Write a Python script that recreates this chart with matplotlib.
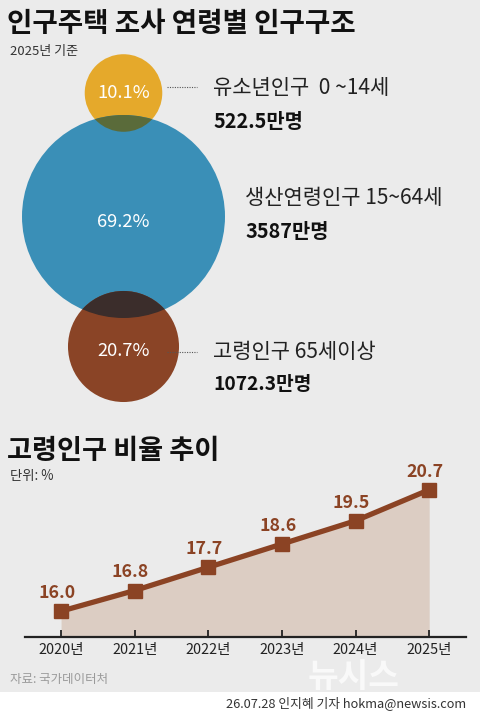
import matplotlib
matplotlib.use("Agg")
import matplotlib.pyplot as plt
from matplotlib.patches import Circle, Rectangle
import numpy as np

plt.rcParams['font.family'] = ['Noto Sans CJK KR', 'DejaVu Sans']

# ---------------- data ----------------
title = '인구주택 조사 연령별 인구구조'
subtitle = '2025년 기준'
groups = ['유소년인구', '생산연령인구', '고령인구']
age_ranges = ['0 ~14세', '15~64세', '65세이상']
group_sep = ['  ', ' ', ' ']
shares = [10.1, 69.2, 20.7]            # %
counts = [522.5, 3587, 1072.3]          # 만명

trend_title = '고령인구 비율 추이'
unit_label = '단위: %'
years = [2020, 2021, 2022, 2023, 2024, 2025]
elder_ratio = [16.0, 16.8, 17.7, 18.6, 19.5, 20.7]
source = '자료: 국가데이터처'
credit = '26.07.28 인지혜 기자 hokma@newsis.com'

# ---------------- style ----------------
BG = '#ebebeb'
C_YEL = '#e5a92b'
C_BLU = '#3a8fb7'
C_BRN = '#8a4426'
C_OLV = '#5a6b3a'
C_DRK = '#3b2d2b'
C_FILL = '#dccdc3'
C_LINE = '#8b4324'

W, H = 480, 714
fig = plt.figure(figsize=(W / 100, H / 100), dpi=100)
fig.patch.set_facecolor(BG)

bg = fig.add_axes([0, 0, 1, 1])
bg.set_xlim(0, W)
bg.set_ylim(H, 0)
bg.axis('off')
bg.set_zorder(0)

# white footer band
bg.add_patch(Rectangle((0, 692), W, H - 692, facecolor='white', edgecolor='none', zorder=1))

# titles
bg.text(7, 24, title, fontsize=19.9, fontweight='bold', color='#111111', va='center', ha='left')
bg.text(10, 52, subtitle, fontsize=9.4, color='#333333', va='center', ha='left')

# ---------------- bubbles ----------------
k = 101.5 / np.sqrt(69.2)
radii = [k * np.sqrt(s) for s in shares]
cx = 123.5
cys = [93, 216.5, 346.5]
colors = [C_YEL, C_BLU, C_BRN]

circles = []
for r, cy, c in zip(radii, cys, colors):
    p = Circle((cx, cy), r, facecolor=c, edgecolor='none', zorder=2)
    bg.add_patch(p)
    circles.append(p)

# overlaps
ov1 = Circle((cx, cys[0]), radii[0], facecolor=C_OLV, edgecolor='none', zorder=3)
bg.add_patch(ov1)
ov1.set_clip_path(circles[1])
ov2 = Circle((cx, cys[2]), radii[2], facecolor=C_DRK, edgecolor='none', zorder=3)
bg.add_patch(ov2)
ov2.set_clip_path(circles[1])

pct_y = [92.5, 222, 351.5]
for s, y in zip(shares, pct_y):
    bg.text(cx, y, f'{s:.1f}%', fontsize=13.2, color='white', ha='center', va='center', zorder=5)

# leader lines
bg.plot([167, 197], [87, 87], ls=(0, (1, 1.2)), color='#555555', lw=0.8, zorder=4)
bg.plot([167, 197], [352, 352], ls=(0, (1, 1.2)), color='#555555', lw=0.8, zorder=4)

label_pos = [(213, 88, 122), (245, 198, 231), (213, 352, 385)]
count_size = [14.3, 14.3, 13.8]
for g, sep, rng, cnt, (lx, ly1, ly2), cs in zip(groups, group_sep, age_ranges, counts,
                                                  label_pos, count_size):
    bg.text(lx, ly1, g + sep + rng, fontsize=15.1, color='#222222', ha='left', va='center')
    bg.text(lx, ly2, f'{cnt:g}만명', fontsize=cs, fontweight='bold', color='#111111',
            ha='left', va='center')

# ---------------- trend chart ----------------
bg.text(7, 451, trend_title, fontsize=19.6, fontweight='bold', color='#111111', va='center', ha='left')
bg.text(10, 476, unit_label, fontsize=9.6, color='#333333', va='center', ha='left')
bg.text(10, 679, source, fontsize=9, color='#9a9a9a', va='center', ha='left', zorder=2)
bg.text(466, 703, credit, fontsize=9.2, color='#333333', va='center', ha='right', zorder=2)

# watermark
bg.text(308, 677, '뉴시스', fontsize=24, fontweight='bold', color='white', alpha=0.7,
        va='center', ha='left', zorder=1.5)

ax_left, ax_right = 25, 466
ax_bot, ax_top = 637, 470
ax = fig.add_axes([ax_left / W, 1 - ax_bot / H, (ax_right - ax_left) / W, (ax_bot - ax_top) / H])
ax.set_zorder(2)
ax.patch.set_alpha(0)

x = np.arange(len(years))
ymin = 15
ax.fill_between(x, elder_ratio, ymin, color=C_FILL, lw=0, zorder=1)
ax.plot(x, elder_ratio, color=C_LINE, lw=3.8, marker='s', ms=9.5, zorder=3)
for xi, v in zip(x, elder_ratio):
    ax.annotate(f'{v:.1f}', (xi, v), xytext=(-3, 9.5), textcoords='offset points',
                ha='center', va='baseline', fontsize=12.8, fontweight='bold',
                color=C_LINE, zorder=4)

ax.set_xlim(-0.49, 5.5)
ax.set_ylim(ymin, ymin + (ax_bot - ax_top) / 25.83)
for s in ['left', 'right', 'top']:
    ax.spines[s].set_visible(False)
ax.spines['bottom'].set_color('#222222')
ax.spines['bottom'].set_linewidth(1.6)
ax.set_yticks([])
ax.set_xticks(x)
ax.set_xticklabels([f'{y}년' for y in years], fontsize=10.4, color='#222222')
ax.tick_params(axis='x', direction='in', length=5, width=1.3, color='#222222', pad=4)

fig.savefig('out.png', dpi=100, facecolor=BG)
